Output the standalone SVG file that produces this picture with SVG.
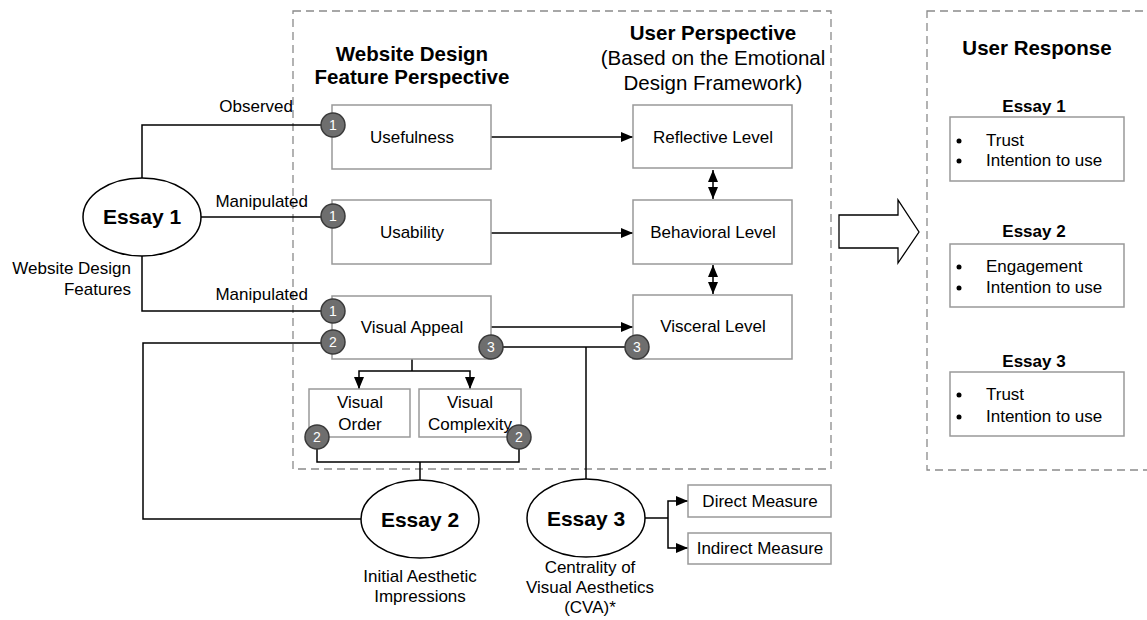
<svg xmlns="http://www.w3.org/2000/svg" width="1147" height="620" viewBox="0 0 1147 620">
  <defs>
    <style>
      text { font-family: "Liberation Sans", Arial, sans-serif; fill: #000; }
      .t { font-size: 17px; text-anchor: middle; }
      .tl { font-size: 17px; }
      .hd { font-size: 20.5px; font-weight: bold; text-anchor: middle; }
      .hn { font-size: 20.5px; text-anchor: middle; }
      .es { font-size: 21px; font-weight: bold; text-anchor: middle; }
      .es2 { font-size: 17px; font-weight: bold; text-anchor: middle; }
      .box { fill: #fff; stroke: #999; stroke-width: 1.5; }
      .frame { fill: none; stroke: #8a8a8a; stroke-width: 1.3; stroke-dasharray: 8 5; }
      .ell { fill: #fff; stroke: #000; stroke-width: 1.5; }
      .ln { fill: none; stroke: #000; stroke-width: 1.5; }
      .arr { fill: none; stroke: #000; stroke-width: 1.5; marker-end: url(#ah); }
      .dbl { fill: none; stroke: #000; stroke-width: 1.5; marker-start: url(#ahs); marker-end: url(#ah); }
      .badge circle { fill: #6e6e6e; stroke: #3a3a3a; stroke-width: 1.5; }
      .badge text { fill: #fff; font-size: 14px; text-anchor: middle; }
    </style>
    <marker id="ah" markerWidth="12" markerHeight="10" refX="12" refY="5" orient="auto" markerUnits="userSpaceOnUse">
      <path d="M0,0 L12,5 L0,10 Z" fill="#000"/>
    </marker>
    <marker id="ahs" markerWidth="12" markerHeight="10" refX="0" refY="5" orient="auto" markerUnits="userSpaceOnUse">
      <path d="M12,0 L0,5 L12,10 Z" fill="#000"/>
    </marker>
  </defs>

  <rect width="1147" height="620" fill="#fff"/>

  <!-- dashed frames -->
  <rect class="frame" x="293" y="11" width="538" height="458"/>
  <rect class="frame" x="927" y="11" width="240" height="459"/>

  <!-- headings -->
  <g id="heading-website">
    <text class="hd" x="412" y="61">Website Design</text>
    <text class="hd" x="412" y="84">Feature Perspective</text>
  </g>
  <g id="heading-user">
    <text class="hd" x="713" y="40">User Perspective</text>
    <text class="hn" x="713" y="65">(Based on the Emotional</text>
    <text class="hn" x="713" y="90">Design Framework)</text>
  </g>
  <g id="heading-response">
    <text class="hd" x="1037" y="55">User Response</text>
  </g>

  <!-- connectors -->
  <g id="connectors">
    <!-- Essay 1 branches -->
    <path class="ln" d="M142,178 V125 H333"/>
    <path class="ln" d="M201,217 H333"/>
    <path class="ln" d="M142,256 V311 H333"/>
    <!-- Essay 2 branches -->
    <path class="ln" d="M333,343 H143 V519 H361"/>
    <path class="ln" d="M317,437 V462 H519 V437"/>
    <path class="ln" d="M420,462 V480"/>
    <!-- Essay 3 branches -->
    <path class="ln" d="M491,347 H637"/>
    <path class="ln" d="M586,347 V479"/>
    <path class="ln" d="M645,518 H668"/>
    <path class="arr" d="M668,518 V501 H688"/>
    <path class="arr" d="M668,518 V548 H688"/>
    <!-- design features to emotional levels -->
    <path class="arr" d="M491,137 H633"/>
    <path class="arr" d="M491,233 H633"/>
    <path class="arr" d="M491,327 H633"/>
    <path class="dbl" d="M713,170 V199"/>
    <path class="dbl" d="M713,265 V294"/>
    <!-- visual appeal split -->
    <path class="ln" d="M412,359 V371"/>
    <path class="arr" d="M412,371 H359 V389"/>
    <path class="arr" d="M412,371 H470 V389"/>
  </g>

  <!-- essays -->
  <g id="essay1">
    <ellipse class="ell" cx="142" cy="217" rx="59" ry="39"/>
    <text class="es" x="142" y="224">Essay 1</text>
  </g>
  <g id="essay2">
    <ellipse class="ell" cx="420" cy="519" rx="59" ry="39"/>
    <text class="es" x="420" y="527">Essay 2</text>
    <text class="t" x="420" y="582">Initial Aesthetic</text>
    <text class="t" x="420" y="602">Impressions</text>
  </g>
  <g id="essay3">
    <ellipse class="ell" cx="586" cy="518" rx="59" ry="39"/>
    <text class="es" x="586" y="526">Essay 3</text>
    <text class="t" x="590" y="573">Centrality of</text>
    <text class="t" x="590" y="593">Visual Aesthetics</text>
    <text class="t" x="590" y="613">(CVA)*</text>
  </g>

  <!-- connector labels -->
  <g id="labels">
    <text class="tl" x="293" y="112" text-anchor="end">Observed</text>
    <text class="tl" x="308" y="207" text-anchor="end">Manipulated</text>
    <text class="tl" x="308" y="300" text-anchor="end">Manipulated</text>
    <text class="tl" x="131" y="274" text-anchor="end">Website Design</text>
    <text class="tl" x="131" y="295" text-anchor="end">Features</text>
  </g>

  <!-- design feature boxes -->
  <g id="usefulness">
    <rect class="box" x="332" y="105" width="159" height="64"/>
    <text class="t" x="412" y="143">Usefulness</text>
  </g>
  <g id="usability">
    <rect class="box" x="332" y="200" width="159" height="64"/>
    <text class="t" x="412" y="238">Usability</text>
  </g>
  <g id="visual-appeal">
    <rect class="box" x="332" y="296" width="159" height="63"/>
    <text class="t" x="412" y="333">Visual Appeal</text>
  </g>
  <g id="visual-order">
    <rect class="box" x="309" y="389" width="101" height="48"/>
    <text class="t" x="360" y="408">Visual</text>
    <text class="t" x="360" y="430">Order</text>
  </g>
  <g id="visual-complexity">
    <rect class="box" x="419" y="389" width="102" height="48"/>
    <text class="t" x="470" y="408">Visual</text>
    <text class="t" x="470" y="430">Complexity</text>
  </g>

  <!-- emotional design levels -->
  <g id="reflective">
    <rect class="box" x="633" y="105" width="159" height="63"/>
    <text class="t" x="713" y="143">Reflective Level</text>
  </g>
  <g id="behavioral">
    <rect class="box" x="633" y="200" width="159" height="64"/>
    <text class="t" x="713" y="238">Behavioral Level</text>
  </g>
  <g id="visceral">
    <rect class="box" x="633" y="295" width="159" height="64"/>
    <text class="t" x="713" y="332">Visceral Level</text>
  </g>

  <!-- measures -->
  <g id="direct-measure">
    <rect class="box" x="688" y="485" width="143" height="32"/>
    <text class="t" x="760" y="507">Direct Measure</text>
  </g>
  <g id="indirect-measure">
    <rect class="box" x="688" y="533" width="143" height="31"/>
    <text class="t" x="760" y="554">Indirect Measure</text>
  </g>

  <!-- numbered badges -->
  <g id="badges" class="badge">
    <g><circle cx="333" cy="125" r="12"/><text x="333" y="130">1</text></g>
    <g><circle cx="333" cy="216" r="12"/><text x="333" y="221">1</text></g>
    <g><circle cx="333" cy="311" r="12"/><text x="333" y="316">1</text></g>
    <g><circle cx="333" cy="342" r="12"/><text x="333" y="347">2</text></g>
    <g><circle cx="317" cy="437" r="12"/><text x="317" y="442">2</text></g>
    <g><circle cx="519" cy="437" r="12"/><text x="519" y="442">2</text></g>
    <g><circle cx="491" cy="347" r="12"/><text x="491" y="352">3</text></g>
    <g><circle cx="637" cy="347" r="12"/><text x="637" y="352">3</text></g>
  </g>

  <!-- transition arrow -->
  <g id="big-arrow">
    <path d="M839,215 H898 V200 L919,232 L898,263 V248 H839 Z" fill="#fff" stroke="#000" stroke-width="1.3"/>
  </g>

  <!-- user responses -->
  <g id="response-essay1">
    <text class="es2" x="1034" y="112">Essay 1</text>
    <rect class="box" x="950" y="117" width="174" height="64"/>
    <circle cx="959" cy="141" r="2.5"/>
    <circle cx="959" cy="161" r="2.5"/>
    <text class="tl" x="986" y="146">Trust</text>
    <text class="tl" x="986" y="166">Intention to use</text>
  </g>
  <g id="response-essay2">
    <text class="es2" x="1034" y="237">Essay 2</text>
    <rect class="box" x="950" y="244" width="174" height="63"/>
    <circle cx="959" cy="267" r="2.5"/>
    <circle cx="959" cy="288" r="2.5"/>
    <text class="tl" x="986" y="272">Engagement</text>
    <text class="tl" x="986" y="293">Intention to use</text>
  </g>
  <g id="response-essay3">
    <text class="es2" x="1034" y="367">Essay 3</text>
    <rect class="box" x="950" y="372" width="174" height="64"/>
    <circle cx="959" cy="395" r="2.5"/>
    <circle cx="959" cy="417" r="2.5"/>
    <text class="tl" x="986" y="400">Trust</text>
    <text class="tl" x="986" y="422">Intention to use</text>
  </g>
</svg>
